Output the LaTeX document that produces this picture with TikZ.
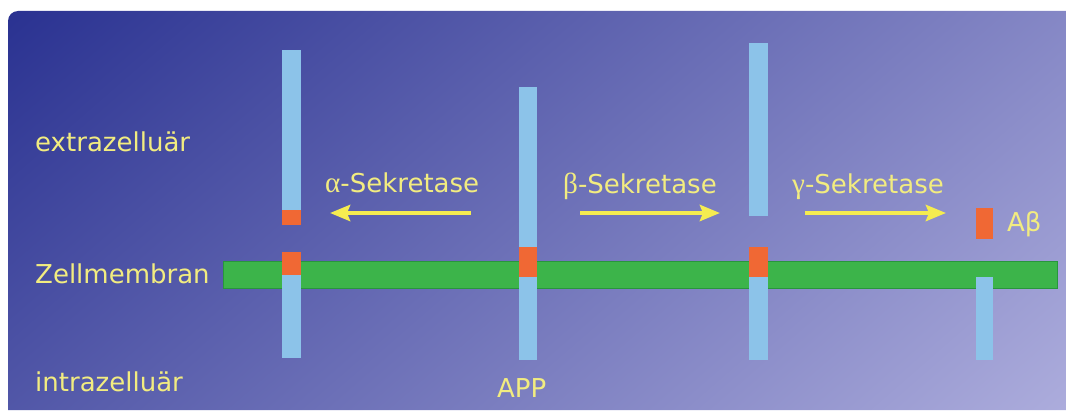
\documentclass[tikz,border=0pt]{standalone}
\usepackage{fontspec}
\setmainfont{DejaVu Sans}
\newfontfamily\grkfont[Scale=1.12]{Liberation Serif}
\usetikzlibrary{positioning,arrows.meta}
\definecolor{bgdark}{RGB}{42,50,145}
\definecolor{bglight}{RGB}{172,172,220}
\definecolor{membgreen}{RGB}{60,180,74}
\definecolor{membedge}{RGB}{40,150,60}
\definecolor{appblue}{RGB}{140,195,233}
\definecolor{abred}{RGB}{240,104,52}
\definecolor{txtyellow}{RGB}{242,236,128}
\definecolor{arryellow}{RGB}{245,236,80}
\pgfdeclarehorizontalshading{panelshade}{100bp}{color(0bp)=(bgdark);
  color(37.6bp)=(bgdark); color(62.4bp)=(bglight); color(100bp)=(bglight)}
\tikzset{lbl/.style={text=txtyellow,inner sep=0pt,anchor=base west,
           font=\fontsize{26}{31}\selectfont},
	 sekr/.style={draw=arryellow,line width=4.5pt,
	   -{Stealth[length=20pt,width=16pt,inset=3pt]}},
	 apppart/.style={fill=appblue},
	 abpart/.style={fill=abred},
	 membrane/.style={fill=membgreen,draw=membedge,line width=0.8pt}
	 }

\begin{document}
\begin{tikzpicture}[x=1pt,y=-1pt]% APP processing
        \useasboundingbox (0,0) rectangle (1066,412);
        \begin{scope}
          \clip (8,410) -- (8,40) [rounded corners=10pt] -- (8,11)
            -- (100,11) [sharp corners] -- (1066,11) -- (1066,410) -- cycle;
          \shade[shading=panelshade,shading angle=-49]
            (-463,-790) rectangle (1537,1210);
        \end{scope}
        % membrane
        \draw[membrane] (223,261) rectangle (1057,288);
        % APP pieces
        \fill[apppart] (282,50) rectangle (301,210);
        \fill[abpart] (282,210) rectangle (301,225);
        \fill[abpart] (282,252) rectangle (301,275);
        \fill[apppart] (282,275) rectangle (301,358);
        \fill[apppart] (519,87) rectangle (537,247);
        \fill[abpart] (519,247) rectangle (537,277);
        \fill[apppart] (519,277) rectangle (537,360);
        \fill[apppart] (749,43) rectangle (768,216);
        \fill[abpart] (749,247) rectangle (768,277);
        \fill[apppart] (749,277) rectangle (768,360);
        \fill[abpart] (976,208) rectangle (993,239);
        \fill[apppart] (976,277) rectangle (993,360);
        % labels
        \node[lbl] (extra) at (35,151) {extrazelluär};
        \node[lbl] (membran) at (35,283) {Zellmembran};
        \node[lbl] (intra) at (35,391) {intrazelluär};
        \node[lbl] (alpha) at (325,192) {{\grkfont α}-Sekretase};
        \node[lbl] (beta) at (563,193) {{\grkfont β}-Sekretase};
        \node[lbl] (gamma) at (792,193) {{\grkfont γ}-Sekretase};
        \node[lbl] (abeta) at (1007,231) {Aβ};
        \node[lbl] (app) at (497,397) {APP};
        % arrows
        \coordinate (a1) at (471,213);
        \coordinate (a2) at (330,213);
        \coordinate (b1) at (580,213);
        \coordinate (b2) at (720,213);
        \coordinate (g1) at (805,213);
        \coordinate (g2) at (946,213);
        \draw[sekr] (a1) -- (a2);
        \draw[sekr] (b1) -- (b2);
        \draw[sekr] (g1) -- (g2);
\end{tikzpicture}
\end{document}
